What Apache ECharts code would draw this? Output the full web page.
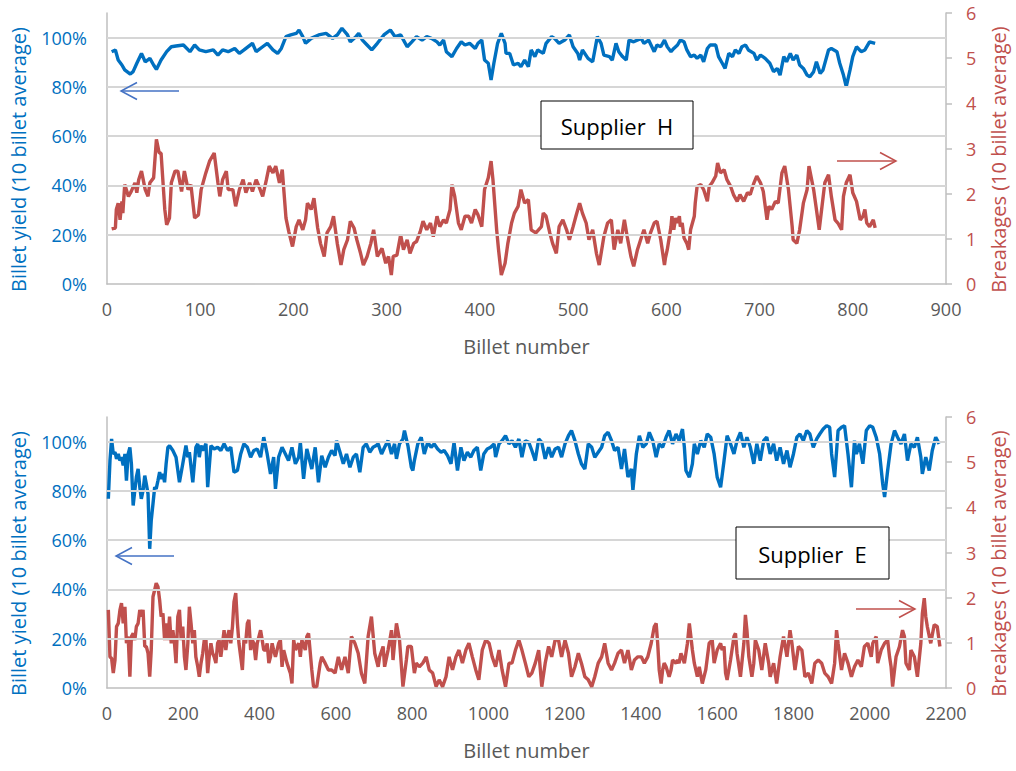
<!DOCTYPE html>
<html>
<head>
<meta charset="utf-8">
<script src="https://cdn.jsdelivr.net/npm/echarts@6/dist/echarts.min.js"></script>
<style>html,body{margin:0;padding:0;background:#fff;}#c{width:1016px;height:771px;}</style>
</head>
<body>
<div id="c"></div>
<script>
// ---- Supplier H (billet number, value) ----
const hYield = [[5,94.3],[9,95.0],[12,90.9],[16,88.9],[19,86.9],[25,85.2],[28,86.2],[32,89.6],[37,93.6],[41,90.2],[46,91.6],[50,88.9],[53,87.1],[58,90.9],[64,94.3],[69,96.3],[74,96.6],[82,97.0],[89,94.3],[94,97.0],[99,95.0],[106,94.3],[114,95.0],[119,92.9],[124,95.0],[130,94.3],[137,95.6],[142,93.6],[147,95.0],[156,97.7],[160,94.3],[167,96.3],[172,97.7],[178,95.0],[183,93.6],[187,95.6],[192,100.4],[197,101.1],[203,101.7],[206,103.1],[210,100.4],[213,97.7],[219,99.7],[227,101.1],[235,101.7],[242,99.7],[247,101.1],[252,103.8],[258,101.1],[261,98.3],[267,100.4],[270,101.7],[274,99.0],[279,97.0],[284,95.0],[290,97.7],[297,101.1],[304,103.1],[309,100.4],[315,101.1],[322,96.3],[327,98.3],[332,100.4],[338,99.0],[343,100.4],[348,99.7],[354,98.3],[357,97.0],[361,99.0],[364,94.3],[370,92.3],[375,95.6],[380,98.3],[384,97.0],[389,97.7],[395,95.6],[398,97.7],[402,99.0],[405,90.9],[409,89.6],[412,82.8],[415,89.6],[419,97.7],[423,101.7],[427,97.7],[428,93.6],[432,93.6],[436,88.9],[441,89.6],[444,88.2],[448,90.9],[452,88.2],[455,95.0],[459,92.3],[462,95.0],[468,93.6],[471,97.7],[477,100.4],[480,99.7],[485,97.7],[491,99.0],[496,101.1],[500,96.3],[505,93.6],[507,90.9],[510,95.0],[516,91.6],[521,90.2],[526,100.4],[530,97.7],[533,92.9],[539,92.3],[542,90.9],[546,97.7],[549,94.3],[553,92.3],[557,90.9],[560,99.0],[565,98.3],[573,99.7],[576,97.7],[581,99.0],[587,94.3],[590,97.0],[594,96.3],[598,99.0],[601,96.3],[605,94.3],[608,95.6],[612,97.0],[615,99.0],[619,98.3],[622,95.0],[626,92.3],[630,92.9],[633,91.6],[637,92.9],[640,90.2],[644,95.6],[647,97.0],[653,97.0],[656,92.3],[660,89.6],[663,87.5],[667,93.6],[671,92.3],[674,95.0],[678,93.6],[681,96.3],[685,97.0],[688,95.0],[694,93.6],[697,90.9],[701,92.9],[706,91.6],[711,89.6],[715,86.2],[719,87.5],[722,84.8],[726,92.3],[729,90.2],[733,93.6],[736,90.9],[740,92.9],[743,88.9],[747,87.5],[751,84.8],[754,84.1],[758,86.2],[761,90.2],[765,85.5],[768,86.8],[774,95.0],[777,95.6],[783,94.3],[786,89.6],[790,84.8],[793,80.1],[797,86.8],[800,92.3],[804,96.3],[809,94.3],[813,95.0],[818,98.3],[824,97.7]];

const hBreak = [[5,1.22],[9,1.24],[10,1.65],[12,1.79],[14,1.42],[16,1.83],[17,1.57],[19,2.2],[23,1.94],[26,2.05],[30,2.24],[32,2.02],[34,2.31],[37,2.5],[41,2.09],[44,1.94],[46,2.24],[50,2.35],[53,3.2],[56,2.9],[58,2.9],[62,1.65],[64,1.31],[67,1.46],[69,2.24],[73,2.5],[76,2.5],[80,2.05],[83,2.5],[87,2.09],[90,2.2],[94,1.46],[98,1.53],[101,2.09],[106,2.46],[110,2.72],[115,2.9],[119,2.24],[121,1.94],[124,2.31],[128,2.5],[130,2.09],[135,2.09],[138,1.72],[142,2.09],[146,2.31],[149,2.02],[153,2.24],[156,2.05],[160,2.31],[163,2.16],[167,1.94],[171,2.31],[174,2.61],[178,2.46],[181,2.61],[185,2.24],[188,2.53],[192,1.46],[195,1.16],[199,0.83],[203,1.27],[206,1.42],[210,1.2],[213,1.42],[215,1.79],[219,1.65],[222,1.9],[226,1.24],[229,0.9],[233,0.61],[236,1.13],[240,1.27],[243,1.5],[247,0.9],[251,0.42],[254,0.76],[258,0.98],[261,1.39],[265,1.24],[268,0.98],[272,0.68],[275,0.42],[279,0.61],[283,0.9],[286,1.2],[290,0.61],[295,0.79],[299,0.46],[302,0.61],[305,0.2],[307,0.61],[311,0.64],[315,1.09],[318,0.76],[322,0.98],[325,0.68],[329,0.9],[332,0.94],[336,1.16],[339,1.39],[343,1.2],[347,1.35],[350,1.05],[354,1.5],[357,1.27],[361,1.42],[364,1.35],[368,1.65],[370,2.2],[373,1.94],[377,1.35],[380,1.2],[384,1.5],[388,1.5],[391,1.35],[395,1.65],[398,1.53],[402,1.27],[405,2.09],[409,2.35],[412,2.72],[414,2.31],[418,1.2],[420,0.76],[423,0.2],[427,0.46],[430,0.9],[434,1.35],[437,1.57],[441,1.72],[444,2.09],[448,1.79],[452,1.87],[455,1.2],[460,1.13],[466,1.27],[468,1.57],[471,1.5],[475,1.13],[478,0.9],[482,0.68],[485,1.27],[489,1.42],[493,1.2],[496,0.98],[500,1.27],[503,1.5],[507,1.79],[510,1.57],[514,1.35],[517,0.98],[521,1.2],[525,0.68],[528,0.42],[533,1.05],[537,1.35],[541,1.42],[544,0.76],[548,1.2],[551,0.9],[555,1.42],[558,1.05],[562,0.61],[565,0.39],[569,0.76],[573,1.02],[576,1.2],[580,0.9],[583,1.13],[587,1.35],[590,1.39],[594,0.98],[598,0.42],[599,0.57],[601,0.76],[605,1.27],[606,1.5],[608,1.2],[610,1.46],[612,1.35],[614,1.5],[615,1.27],[617,1.35],[619,1.02],[622,0.9],[624,0.76],[626,1.2],[630,1.5],[631,1.79],[633,2.16],[637,2.2],[640,2.09],[644,1.83],[646,2.16],[649,2.24],[653,2.39],[655,2.68],[658,2.46],[662,2.53],[665,2.31],[669,2.16],[672,1.98],[676,1.83],[679,1.98],[683,1.83],[687,2.02],[690,1.98],[694,2.24],[697,2.39],[701,2.24],[704,2.05],[708,1.42],[710,1.72],[713,1.65],[717,1.83],[720,1.79],[724,2.46],[727,2.61],[731,2.09],[735,1.27],[736,0.98],[740,0.9],[743,1.2],[747,1.79],[751,2.09],[753,2.61],[758,2.09],[761,1.65],[764,1.2],[767,1.72],[770,2.24],[774,2.42],[777,1.94],[781,1.42],[784,1.35],[788,1.2],[790,1.94],[793,2.24],[797,2.42],[800,2.02],[804,1.83],[808,1.42],[811,1.5],[813,1.65],[815,1.35],[818,1.27],[822,1.42],[824,1.24]];

// ---- Supplier E (billet number, value) ----
const eYield = [[3.5,76.8],[7.8,92.3],[12,101.1],[16.5,95.0],[21,95.7],[25,93.0],[29.5,95.0],[34,92.3],[38,93.7],[42.5,90.3],[47,95.0],[51,84.2],[55.5,95.0],[60,97.7],[64,91.0],[68.6,74.1],[73,80.2],[77,85.6],[81.6,88.9],[86,81.5],[90,76.8],[94.6,80.2],[99,86.2],[103,82.9],[107.6,78.8],[112,56.5],[116,68.0],[120.6,74.8],[125,81.5],[129,80.8],[133.6,84.2],[138,87.6],[142,84.9],[146.7,86.9],[151,83.5],[155,91.0],[159.7,97.7],[164,98.4],[172.7,96.4],[181,93.7],[190,83.5],[198.7,91.0],[207,98.4],[212,93.7],[216,95.7],[225,83.5],[233,97.7],[238,99.1],[242,93.7],[246.5,98.4],[251,96.4],[259.5,99.1],[264,81.5],[272.5,98.4],[281,97.0],[290,97.7],[298.5,96.4],[307,99.1],[316,96.4],[324.6,97.7],[333,87.6],[342,88.3],[350.6,95.0],[359,99.1],[368,97.7],[376.6,93.7],[385,96.4],[394,97.0],[402.7,93.7],[411,101.8],[420,95.0],[428.7,86.9],[437,93.7],[441.7,80.8],[450,93.7],[459,97.7],[467.8,95.0],[476,92.3],[485,97.7],[494,91.0],[502.5,93.7],[507,99.7],[515.5,84.9],[524,97.0],[537,88.9],[546,97.7],[554.5,83.5],[563,94.3],[572,89.6],[580.6,93.7],[589,96.4],[598,94.3],[602,100.4],[611,95.7],[619.6,91.0],[628,95.0],[637,89.6],[645.7,93.7],[654,95.0],[663,87.6],[671.7,97.7],[680,99.1],[689,95.7],[697.7,97.7],[706,98.4],[711,99.1],[720,95.0],[728,97.7],[737,100.4],[746,95.0],[754,99.1],[759,93.0],[767,99.1],[776,101.1],[780,104.5],[789,98.4],[798,89.6],[802,88.3],[806,92.3],[815,99.1],[824,101.8],[832,95.0],[841,99.7],[850,97.7],[858,99.1],[867,97.0],[876,95.7],[884,96.4],[893,94.3],[902,91.0],[910,99.7],[919,88.3],[928,97.7],[936,92.3],[945,95.7],[954,93.7],[962,96.4],[971,97.7],[980,88.3],[988,95.0],[997,97.0],[1006,97.7],[1015,99.1],[1019,93.7],[1028,99.1],[1036,100.4],[1045,102.4],[1054,99.1],[1062,100.4],[1071,97.7],[1080,101.1],[1088,93.7],[1097,100.4],[1106,99.7],[1114,96.4],[1123,92.3],[1132,101.1],[1140,99.7],[1149,93.0],[1158,97.7],[1166,93.7],[1175,97.0],[1184,97.7],[1192,93.7],[1201,99.1],[1210,102.4],[1218,104.5],[1227,100.4],[1236,95.0],[1244,91.0],[1253,88.9],[1262,99.1],[1271,97.7],[1279,93.7],[1288,95.7],[1297,97.7],[1305,102.4],[1314,103.8],[1323,100.4],[1331,96.4],[1340,97.7],[1349,88.9],[1357,97.0],[1366,85.6],[1375,88.9],[1379,80.2],[1388,95.0],[1396,102.4],[1405,97.7],[1414,99.1],[1422,103.8],[1431,100.4],[1440,93.7],[1448,99.1],[1457,97.7],[1466,101.8],[1474,104.5],[1483,99.1],[1492,103.1],[1500,100.4],[1509,105.1],[1514,97.7],[1518,88.3],[1527,85.6],[1535,91.0],[1540,99.1],[1548,95.0],[1557,100.4],[1566,97.7],[1574,103.1],[1583,101.8],[1592,95.0],[1600,85.6],[1609,81.5],[1618,92.3],[1626,102.4],[1635,99.1],[1644,95.0],[1652,100.4],[1661,103.8],[1670,97.7],[1678,101.8],[1687,97.7],[1696,91.0],[1704,99.1],[1713,92.3],[1722,100.4],[1730,101.8],[1739,95.0],[1748,99.1],[1756,92.3],[1765,97.7],[1774,91.0],[1783,96.4],[1791,89.6],[1800,95.0],[1809,101.8],[1817,103.1],[1826,100.4],[1835,104.5],[1843,103.1],[1852,97.7],[1861,101.1],[1869,103.1],[1878,105.1],[1887,106.5],[1895,105.8],[1900,95.0],[1908,85.6],[1917,104.5],[1926,105.8],[1934,106.5],[1943,95.0],[1952,81.5],[1960,100.4],[1965,95.0],[1973,99.1],[1982,91.0],[1991,104.5],[2000,106.5],[2008,105.8],[2017,101.8],[2026,95.0],[2034,82.9],[2039,77.5],[2047,88.3],[2056,99.1],[2065,104.5],[2073,101.8],[2082,99.1],[2091,103.1],[2099,92.3],[2108,99.1],[2117,97.7],[2125,101.8],[2134,93.7],[2138,86.9],[2147,93.7],[2156,88.3],[2164,96.4],[2173,101.8],[2182,99.1]];

const eBreak = [[3.5,1.73],[7.8,0.69],[12,0.66],[16.5,0.33],[21,0.62],[25,1.36],[29.5,1.43],[34,1.73],[38,1.88],[42.5,1.43],[47,1.8],[51,0.99],[55.5,1.14],[60,0.25],[64,1.14],[68.6,1.21],[73,1.06],[77,1.36],[81.6,1.43],[86,1.73],[90,1.58],[94.6,1.73],[99,0.92],[103,0.92],[107.6,0.77],[112,0.25],[116,0.84],[120.6,2.02],[125,2.17],[129,2.32],[133.6,2.24],[138,1.95],[142,1.58],[146.7,1.65],[151,1.06],[155,1.43],[159.7,1.06],[164,1.58],[168.4,0.99],[172.7,1.28],[177,0.99],[181,0.55],[185.7,1.58],[190,1.73],[194.4,1.06],[198.7,1.36],[203,0.69],[207,0.4],[212,0.99],[216,1.8],[220.4,1.43],[225,0.99],[229,1.28],[233,0.69],[238,0.47],[242,0.25],[246.5,0.55],[251,0.77],[255,1.06],[259.5,1.06],[264,0.33],[268,0.69],[272.5,0.99],[277,0.77],[281,0.69],[285.5,0.55],[290,0.99],[294,1.06],[298.5,0.69],[303,0.99],[307,1.28],[311.6,0.84],[316,1.14],[320,1.28],[324.6,0.99],[329,1.36],[333,1.91],[337.6,2.1],[342,1.43],[346,0.99],[350.6,0.69],[355,0.4],[359,1.06],[363.6,0.99],[368,1.43],[372,1.51],[376.6,0.84],[381,1.06],[385,0.99],[389.7,0.62],[394,0.99],[402.7,1.28],[407,1.06],[411,0.84],[415.7,0.84],[420,0.99],[424.4,0.55],[428.7,0.69],[433,0.99],[437,0.84],[441.7,0.69],[450,0.99],[454.7,1.06],[459,0.47],[463.4,0.84],[472,0.55],[480.8,0.33],[485,0.1],[489.5,1.06],[494,0.84],[502.5,0.99],[507,0.69],[511,1.06],[520,0.84],[524,1.14],[528.5,1.21],[537,0.4],[541.5,0.03],[550,0.03],[559,0.55],[563,0.69],[572,0.55],[580.6,0.4],[589,0.4],[598,0.33],[606.6,0.69],[615,0.4],[624,0.69],[632.6,0.33],[641,1.14],[650,0.99],[658.7,0.77],[667,0.33],[676,0.1],[684.7,1.14],[693.4,1.58],[702,0.77],[711,0.47],[715,0.69],[724,0.92],[728,0.47],[737,0.84],[746,1.28],[750,0.62],[754,0.99],[759,1.43],[767,1.06],[776,0.03],[785,0.62],[789,0.92],[798,0.92],[806,0.33],[811,0.55],[819,0.47],[828,0.55],[837,0.69],[845,0.4],[854,0.33],[863,0.03],[871,0.18],[880,0.03],[889,0.25],[897,0.69],[906,0.4],[915,0.69],[923,0.84],[932,0.55],[941,0.84],[949,0.99],[958,0.69],[967,0.4],[975,0.18],[984,0.84],[993,1.06],[1002,0.99],[1010,0.69],[1019,0.47],[1028,0.84],[1036,0.4],[1045,0.03],[1054,0.55],[1062,0.55],[1071,0.84],[1080,1.06],[1088,0.84],[1097,0.55],[1106,0.25],[1114,0.33],[1123,0.55],[1132,0.84],[1140,0.03],[1149,0.55],[1158,0.92],[1166,0.69],[1175,1.06],[1184,1.06],[1192,0.69],[1201,1.06],[1210,0.77],[1218,0.25],[1227,0.47],[1236,0.77],[1244,0.55],[1253,0.25],[1262,0.18],[1271,0.03],[1279,0.25],[1288,0.55],[1297,0.69],[1305,0.99],[1314,0.55],[1323,0.4],[1331,0.55],[1340,0.77],[1349,0.84],[1357,0.55],[1366,0.84],[1375,0.4],[1383,0.62],[1392,0.69],[1401,0.69],[1409,0.55],[1418,0.69],[1427,0.99],[1435,1.36],[1440,1.43],[1444,0.99],[1448,0.4],[1453,0.1],[1457,0.4],[1461,0.55],[1466,0.47],[1474,0.25],[1479,0.4],[1483,0.62],[1492,0.55],[1496,0.62],[1500,0.55],[1505,0.77],[1514,0.55],[1522,0.99],[1527,1.43],[1531,1.14],[1535,0.84],[1540,0.55],[1548,0.25],[1553,0.47],[1561,0.1],[1570,0.4],[1579,0.99],[1587,1.06],[1592,0.55],[1600,0.84],[1609,0.99],[1613,0.84],[1618,0.92],[1622,0.33],[1626,0.18],[1635,0.62],[1644,1.14],[1648,1.21],[1652,0.77],[1661,0.25],[1670,0.99],[1674,1.62],[1678,1.28],[1683,0.69],[1691,0.25],[1696,0.55],[1700,1.06],[1709,0.84],[1717,0.4],[1726,0.99],[1735,0.55],[1739,0.25],[1748,0.55],[1756,0.1],[1765,0.69],[1774,1.14],[1783,0.69],[1791,1.28],[1796,0.99],[1804,0.4],[1813,0.92],[1822,0.84],[1830,0.25],[1839,0.33],[1848,0.1],[1856,0.55],[1865,0.62],[1874,0.55],[1882,0.33],[1891,0.25],[1900,0.1],[1908,0.55],[1913,1.28],[1917,0.99],[1926,0.4],[1934,0.77],[1943,0.55],[1952,0.25],[1960,0.47],[1969,0.62],[1978,0.47],[1986,0.92],[1995,0.99],[2004,0.69],[2008,0.99],[2017,1.14],[2021,0.55],[2030,0.84],[2039,0.99],[2047,1.06],[2052,0.69],[2056,0.47],[2060,0.03],[2069,0.69],[2078,0.92],[2086,1.28],[2091,1.14],[2095,0.55],[2104,0.4],[2108,0.84],[2117,0.69],[2125,0.25],[2134,0.99],[2138,1.65],[2143,1.99],[2147,1.58],[2151,1.36],[2160,0.99],[2169,1.4],[2177,1.36],[2184,0.92]];

// ---- axis ticks / texts ----
const xTicksH = {min: 0, max: 900, interval: 100};
const xTicksE = {min: 0, max: 2200, interval: 200};
const yieldTicks = {min: 0, max: 110, interval: 20};
const yieldGridValues = [20, 40, 60, 80, 100];
const breakTicks = {min: 0, max: 6, interval: 1};
const xName = 'Billet number';
const yieldName = 'Billet yield (10 billet average)';
const breakName = 'Breakages (10 billet average)';
const supplierLabels = ['Supplier  H', 'Supplier  E'];

const BLUE = '#0070C0', RED = '#C0504D', GREY = '#595959', AXIS = '#BFBFBF', GRID = '#D6D6D6';
const FONT = 'Open Sans';

function xAxisFor(gi, t) {
  return {
    gridIndex: gi, type: 'value', min: t.min, max: t.max, interval: t.interval,
    name: xName, nameLocation: 'middle', nameGap: 52,
    nameTextStyle: {fontSize: 20, color: GREY, fontFamily: FONT},
    axisLine: {show: true, onZero: false, lineStyle: {color: AXIS, width: 1.5}},
    axisTick: {show: false},
    axisLabel: {fontSize: 18, color: GREY, margin: 16, fontFamily: FONT, formatter: function (v) { return String(v); }},
    splitLine: {show: false}
  };
}
function yieldAxis(gi) {
  return {
    gridIndex: gi, type: 'value', position: 'left', min: yieldTicks.min, max: yieldTicks.max, interval: yieldTicks.interval,
    name: yieldName, nameLocation: 'middle', nameRotate: 90, nameGap: 79,
    nameTextStyle: {fontSize: 20, color: BLUE, fontFamily: FONT, padding: [0, 22, 0, 0]},
    axisLine: {show: true, lineStyle: {color: AXIS, width: 1.5}},
    axisTick: {show: false},
    axisLabel: {formatter: '{value}%', fontSize: 18, color: BLUE, margin: 20, showMaxLabel: false, fontFamily: FONT},
    splitLine: {show: false}
  };
}
function breakAxis(gi) {
  return {
    gridIndex: gi, type: 'value', position: 'right', min: breakTicks.min, max: breakTicks.max, interval: breakTicks.interval,
    name: breakName, nameLocation: 'middle', nameRotate: 90, nameGap: 42,
    nameTextStyle: {fontSize: 20, color: RED, fontFamily: FONT, padding: [0, 22, 0, 0]},
    axisLine: {show: true, lineStyle: {color: AXIS, width: 1.5}},
    axisTick: {show: true, inside: false, length: 6, lineStyle: {color: AXIS, width: 1.5}},
    axisLabel: {fontSize: 18, color: RED, margin: 20, fontFamily: FONT},
    splitLine: {show: false}
  };
}
function gridSeries(xi, yi) {
  return {type: 'line', xAxisIndex: xi, yAxisIndex: yi, data: [], silent: true, animation: false, z: 0,
    markLine: {silent: true, animation: false, symbol: ['none', 'none'], label: {show: false},
      lineStyle: {color: GRID, type: 'solid', width: 2},
      emphasis: {disabled: true},
      data: yieldGridValues.map(function (v) { return {yAxis: v}; })}};
}
function lineSeries(data, xi, yi, color) {
  return {type: 'line', xAxisIndex: xi, yAxisIndex: yi, data: data, showSymbol: false, symbol: 'none', z: 2,
    lineStyle: {color: color, width: 3.4}, itemStyle: {color: color}, animation: false, silent: true};
}
function arrow(x1, x2, y, color) {
  const dir = x2 > x1 ? -1 : 1;
  return [
    {type: 'polyline', shape: {points: [[x1, y], [x2, y]]}, style: {stroke: color, lineWidth: 1.5, fill: null}, z: 100},
    {type: 'polyline', shape: {points: [[x2 + dir * 16, y - 8.5], [x2, y], [x2 + dir * 16, y + 8.5]]}, style: {stroke: color, lineWidth: 1.5, fill: null}, z: 100}
  ];
}
function box(x, y, w, h, label) {
  return [
    {type: 'rect', shape: {x: x, y: y, width: w, height: h}, style: {fill: '#fff', stroke: '#000', lineWidth: 1}, z: 100},
    {type: 'text', x: x + w / 2, y: y + h / 2 + 1, style: {text: label, fontSize: 22, fontFamily: FONT, fill: '#000', align: 'center', verticalAlign: 'middle'}, z: 101}
  ];
}

const chart = echarts.init(document.getElementById('c'), null, {renderer: 'svg'});
chart.setOption({
  backgroundColor: '#fff',
  animation: false,
  textStyle: {fontFamily: FONT},
  grid: [
    {left: 107, right: 65, top: 13, height: 271},
    {left: 107, right: 65, top: 417, height: 271}
  ],
  xAxis: [xAxisFor(0, xTicksH), xAxisFor(1, xTicksE)],
  yAxis: [yieldAxis(0), breakAxis(0), yieldAxis(1), breakAxis(1)],
  series: [
    gridSeries(0, 0),
    gridSeries(1, 2),
    lineSeries(hBreak, 0, 1, RED),
    lineSeries(hYield, 0, 0, BLUE),
    lineSeries(eBreak, 1, 3, RED),
    lineSeries(eYield, 1, 2, BLUE)
  ],
  graphic: [].concat(
    box(541, 101, 152, 48, supplierLabels[0]),
    box(736, 527, 153, 52, supplierLabels[1]),
    arrow(179, 121, 91, '#4472C4'),
    arrow(837, 896, 161, RED),
    arrow(174, 116, 556, '#4472C4'),
    arrow(856, 915, 609, RED)
  )
});
</script>
</body>
</html>
